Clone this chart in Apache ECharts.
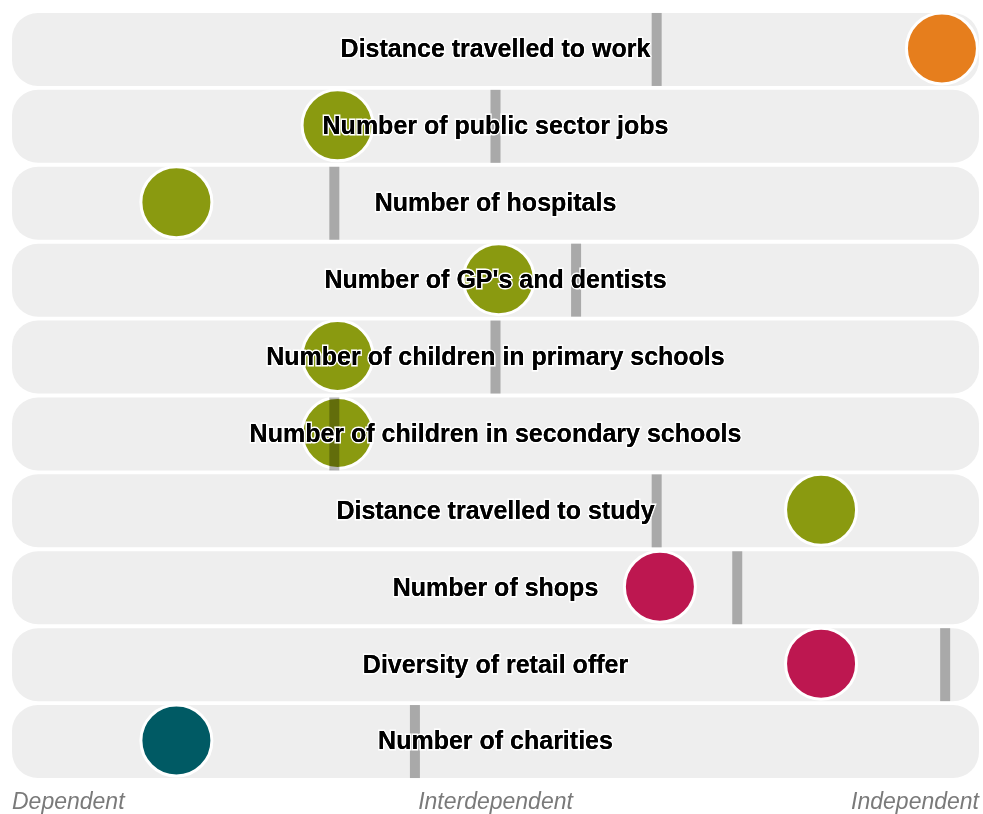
<!DOCTYPE html>
<html>
<head>
<meta charset="utf-8">
<script src="https://cdn.jsdelivr.net/npm/echarts@6/dist/echarts.min.js"></script>
<style>
html,body{margin:0;padding:0;background:#fff;}
#chart{width:983px;height:814px;}
</style>
</head>
<body>
<div id="chart"></div>
<script>
// Data (scale 0 = Dependent, 3 = Interdependent, 6 = Independent)
const categories = [
  'Distance travelled to work',
  'Number of public sector jobs',
  'Number of hospitals',
  "Number of GP's and dentists",
  'Number of children in primary schools',
  'Number of children in secondary schools',
  'Distance travelled to study',
  'Number of shops',
  'Diversity of retail offer',
  'Number of charities'
];
const scoreValues = [5.77, 2.02, 1.02, 3.02, 2.02, 2.02, 5.02, 4.02, 5.02, 1.02];
const benchmarkValues = [4.0, 3.0, 2.0, 3.5, 3.0, 2.0, 4.0, 4.5, 5.79, 2.5];
const groups = ['A', 'B', 'B', 'B', 'B', 'B', 'B', 'C', 'C', 'D'];
const tickLabels = ['Dependent', 'Interdependent', 'Independent'];
const axisMin = 0, axisMax = 6;

// Styles
const groupColors = { A: '#E67E1D', B: '#8A9A10', C: '#BD1750', D: '#005A64' };
const font = '"Liberation Sans", Arial, Helvetica, sans-serif';

const chart = echarts.init(document.getElementById('chart'), null, { renderer: 'canvas' });

function labelSeries(withHalo, z) {
  return {
    type: 'scatter',
    name: withHalo ? 'labelHalo' : 'labels',
    z: z,
    silent: true,
    symbolSize: 1,
    itemStyle: { color: 'rgba(0,0,0,0)', opacity: 1 },
    data: categories.map(c => [(axisMin + axisMax) / 2, c]),
    label: {
      show: true,
      position: 'inside',
      offset: [0, 1],
      formatter: p => categories[p.dataIndex],
      fontFamily: font,
      fontWeight: 'bold',
      fontSize: 25,
      color: '#000000',
      textBorderColor: withHalo ? '#ffffff' : 'transparent',
      textBorderWidth: withHalo ? 3 : 0
    }
  };
}

chart.setOption({
  animation: false,
  backgroundColor: '#ffffff',
  grid: { left: 12, width: 967, top: 11, height: 769, containLabel: false },
  xAxis: {
    type: 'value',
    min: axisMin,
    max: axisMax,
    interval: 3,
    splitLine: { show: false },
    axisLine: { show: false },
    axisTick: { show: false },
    axisLabel: {
      show: true,
      margin: 11,
      fontFamily: font,
      fontStyle: 'italic',
      fontSize: 23,
      color: '#7a7a7a',
      alignMinLabel: 'left',
      alignMaxLabel: 'right',
      formatter: v => tickLabels[Math.round(v / 3)]
    }
  },
  yAxis: {
    type: 'category',
    data: categories,
    inverse: true,
    show: false
  },
  series: [
    {
      type: 'bar',
      name: 'row',
      data: categories.map(() => axisMax),
      barWidth: 73,
      silent: true,
      z: 1,
      itemStyle: { color: '#eeeeee', borderRadius: 26 }
    },
    {
      type: 'scatter',
      name: 'score',
      z: 3,
      symbol: 'circle',
      symbolSize: 71,
      symbolOffset: [0, -1],
      data: scoreValues.map((v, i) => ({
        value: [v, categories[i]],
        itemStyle: { color: groupColors[groups[i]] }
      })),
      itemStyle: { borderColor: '#ffffff', borderWidth: 3, opacity: 1 }
    },
    {
      type: 'scatter',
      name: 'benchmark',
      z: 4,
      symbol: 'rect',
      symbolSize: [10, 73],
      data: benchmarkValues.map((v, i) => [v, categories[i]]),
      itemStyle: { color: 'rgba(0,0,0,0.29)', opacity: 1 }
    },
    labelSeries(true, 5),
    labelSeries(false, 6)
  ]
});
</script>
</body>
</html>
